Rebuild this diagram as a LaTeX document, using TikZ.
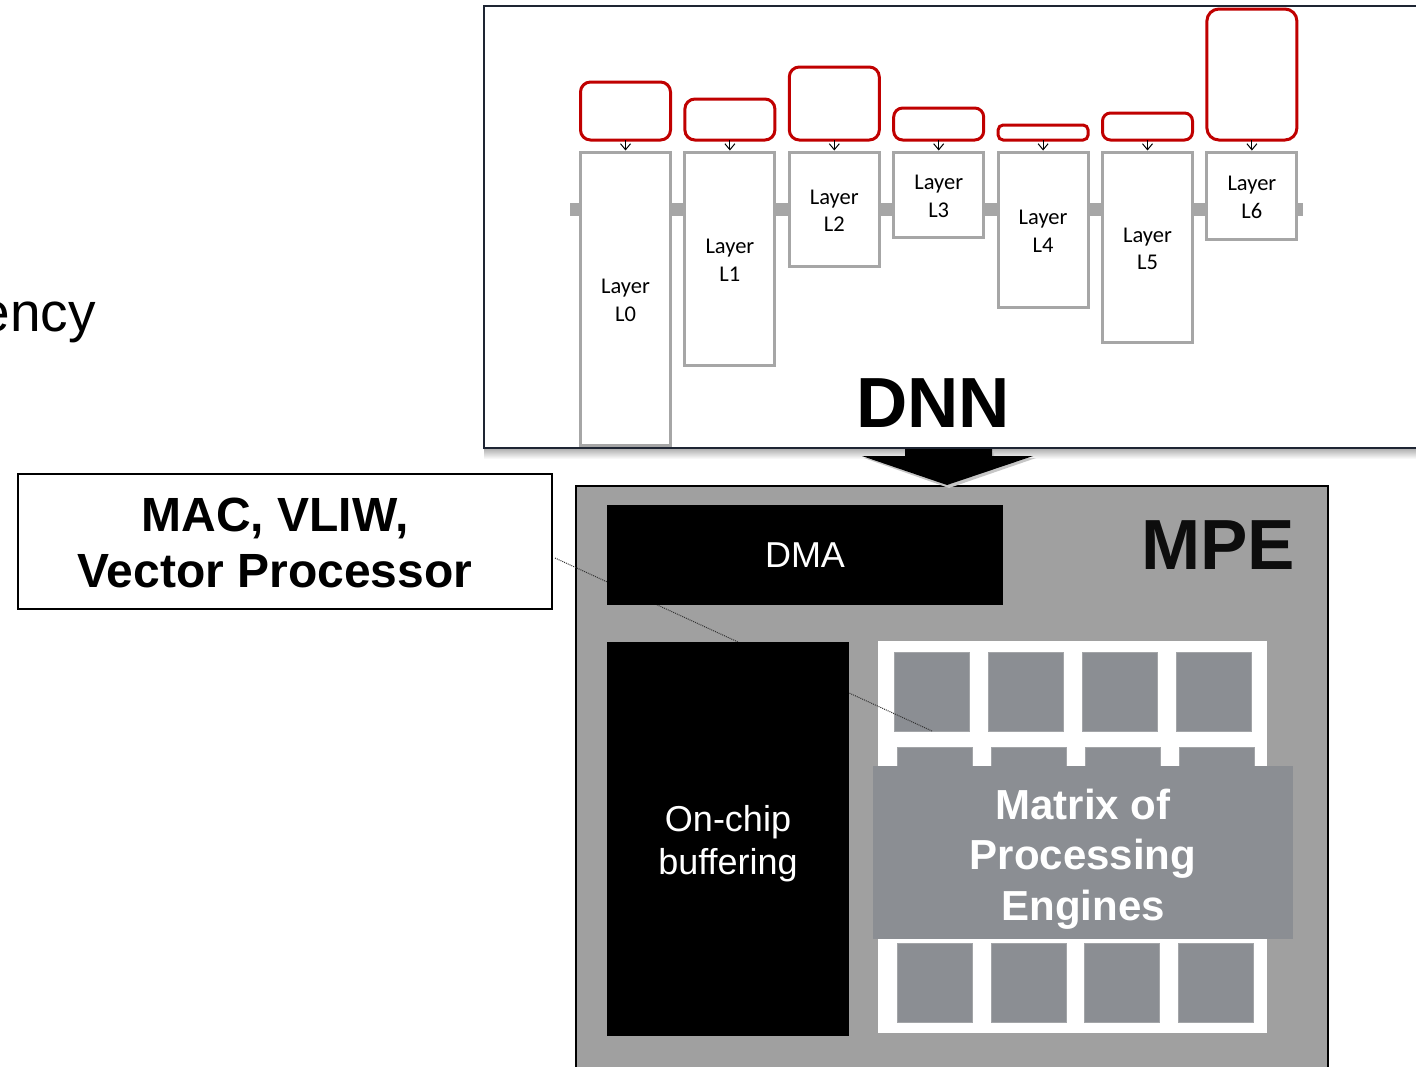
\documentclass[tikz,border=0pt]{standalone}
\usepackage{fontspec}
\setmainfont{Liberation Sans}
\newfontfamily\calib{Carlito}
\usetikzlibrary{arrows.meta}
\definecolor{redbox}{HTML}{C00000}
\definecolor{laygray}{HTML}{A6A6A6}
\definecolor{mpegray}{HTML}{A0A0A0}
\definecolor{pegray}{HTML}{8B8E93}
\definecolor{peedge}{HTML}{A3A5A8}
\definecolor{frameblue}{HTML}{1E2533}
\begin{document}
\begin{tikzpicture}[x=1pt,y=-1pt,
  every node/.style={outer sep=0pt, inner sep=0pt},
  layerbox/.style={draw=laygray, line width=3pt, fill=white, minimum width=90pt,
    font=\calib\fontsize{22.5}{27.5}\selectfont, align=center, anchor=north},
  redtile/.style={draw=redbox, line width=3pt, fill=white,
    minimum width=90pt, anchor=south},
  feed/.style={-{Straight Barb[length=6pt,width=10pt]}, line width=1pt, shorten >=1.5pt},
  pebox/.style={fill=pegray, draw=peedge, line width=1pt, minimum width=75pt,
    minimum height=79pt, anchor=north west},
  blackblock/.style={fill=black, text=white, anchor=north west,
    font=\fontsize{36}{43}\selectfont, align=center},
  callout/.style={line width=1pt, dash pattern=on 1pt off 1pt, black!80}
]
\clip (0,0) rectangle (1416,1066);
\fill[white] (0,0) rectangle (1416,1066);

% cut-off text at the left (as in the reference)
\node[anchor=base east, font=\fontsize{55}{55}\selectfont] (latency) at (96,331) {ency};

% DNN frame
\shade[top color=gray!60, bottom color=white] (484,449) rectangle (1416,459);
\node[draw=frameblue, line width=2pt, fill=white, minimum width=945pt,
  minimum height=442pt, anchor=north west] (dnn) at (484,6) {};

% connecting bar
\fill[laygray] (570,203) rectangle (1303,216);

% layers and their red tiles
\foreach \i/\x/\lh/\rh/\rc in {0/625.5/293/58/10, 1/729.9/213/41/10, 2/834.3/114/73/10,
  3/938.7/85/32/9, 4/1043.1/155/15/5, 5/1147.5/190/27/8, 6/1251.9/87/131/12} {
  \node[redtile, rounded corners=\rc pt, minimum height=\rh pt] (r\i) at (\x,140) {};
  \node[layerbox, minimum height=\lh pt] (l\i) at (\x,152) {\rule{0pt}{18pt}Layer\\L\i};
  \draw[feed] (r\i) -- (l\i);
}

\node[anchor=base, font=\fontsize{71}{71}\selectfont\bfseries] (dnnlabel) at (933,427) {DNN};

% MPE frame
\node[draw=black, line width=2pt, fill=mpegray, minimum width=752pt,
  minimum height=620pt, anchor=north west] (mpe) at (576,486) {};
\node[anchor=base, font=\fontsize{71}{71}\selectfont\bfseries, text=black!95] (mpelabel) at (1218,569) {MPE};

% big arrow from DNN to MPE
\fill[gray!45] (907,451) -- (994,451) -- (994,458) -- (1036,458) -- (949,488) -- (864,458) -- (907,458) -- cycle;
\fill[black] (905,449) -- (992,449) -- (992,456) -- (1033,456) -- (947,485) -- (862,456) -- (905,456) -- cycle;

% matrix of processing engines
\node[fill=white, minimum width=389pt, minimum height=392pt, anchor=north west] (pemat) at (878,641) {};
\foreach \j/\x in {0/894, 1/988, 2/1082, 3/1176} {
  \node[pebox] (pa\j) at (\x,652) {};
}
\foreach \j/\x in {0/897, 1/991, 2/1085, 3/1179} {
  \node[pebox] (pb\j) at (\x,747) {};
}
\foreach \j/\x in {0/897, 1/991, 2/1084, 3/1178} {
  \node[pebox] (pc\j) at (\x,943) {};
}

% callout from MAC box
\node[draw=black, line width=2pt, fill=white, minimum width=534pt, minimum height=135pt,
  anchor=north west] (mac) at (18,474) {};
\node[align=center, font=\fontsize{48}{56}\selectfont\bfseries] (mactext) at (275,543) {MAC, VLIW,\\Vector Processor};
\coordinate (calloutstart) at (555,558);
\coordinate (calloutend) at (932,731);
\draw[callout] (calloutstart) -- (calloutend);

% DMA and buffer
\node[blackblock, minimum width=396pt, minimum height=100pt] (dma) at (607,505) {DMA};
\node[blackblock, minimum width=242pt, minimum height=394pt] (buf) at (607,642) {\rule{0pt}{35pt}On-chip\\buffering};

% banner
\node[fill=pegray, minimum width=420pt, minimum height=173pt, anchor=north west,
  text=white, font=\fontsize{42}{50.5}\selectfont\bfseries, align=center] (banner) at (873,766)
  {\rule{0pt}{43pt}Matrix of\\Processing\\Engines};
\end{tikzpicture}
\end{document}
